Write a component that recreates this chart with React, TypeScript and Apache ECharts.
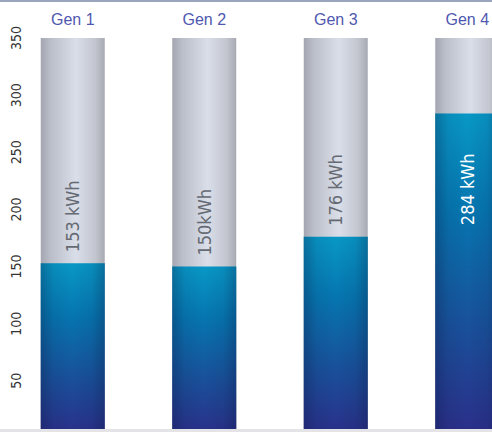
import React, { useEffect, useRef } from "react";
import * as echarts from "echarts";

const categories = ["Gen 1", "Gen 2", "Gen 3", "Gen 4"];
const energyValues = [153, 150, 176, 284];
const valueLabels = ["153 kWh", "150kWh", "176 kWh", "284 kWh"];
const yMin = 0;
const yMax = 350;
const yInterval = 50;

const NARROW = '"Liberation Sans Narrow", "DejaVu Sans Condensed", "Liberation Sans", sans-serif';

export default function App() {
  const ref = useRef<HTMLDivElement>(null);
  useEffect(() => {
    if (!ref.current) return;
    const chart = echarts.init(ref.current, undefined, { renderer: "svg" });

    const grayGrad = new echarts.graphic.LinearGradient(0, 0, 1, 0, [
      { offset: 0, color: "#a3a6b0" },
      { offset: 0.15, color: "#babec8" },
      { offset: 0.55, color: "#d9dee9" },
      { offset: 0.85, color: "#c3c6cf" },
      { offset: 1, color: "#a7aab3" },
    ]);
    const blueGrad = new echarts.graphic.LinearGradient(0, 0, 0, 1, [
      { offset: 0, color: "#0898c6" },
      { offset: 0.3, color: "#0676b0" },
      { offset: 0.62, color: "#17549c" },
      { offset: 1, color: "#2c2d88" },
    ]);
    const edgeGrad = new echarts.graphic.LinearGradient(0, 0, 1, 0, [
      { offset: 0, color: "rgba(10,20,60,0.30)" },
      { offset: 0.2, color: "rgba(10,20,60,0.08)" },
      { offset: 0.5, color: "rgba(10,20,60,0)" },
      { offset: 0.8, color: "rgba(10,20,60,0.08)" },
      { offset: 1, color: "rgba(10,20,60,0.30)" },
    ]);

    const topLabel = {
      show: true,
      position: "top",
      distance: 11,
      rotate: 90,
      align: "left",
      verticalAlign: "middle",
      color: "#666a73",
      fontFamily: NARROW,
      fontSize: 18,
    };
    const insideLabel = {
      show: true,
      position: "insideTop",
      distance: 40,
      rotate: 90,
      align: "right",
      verticalAlign: "middle",
      color: "#ffffff",
      fontFamily: NARROW,
      fontSize: 18,
    };

    chart.setOption({
      animation: false,
      grid: { left: 7, right: 0, top: 38, bottom: 2, containLabel: false },
      xAxis: {
        type: "category",
        position: "top",
        data: categories,
        axisLine: { show: false },
        axisTick: { show: false },
        axisLabel: {
          color: "#4f58b0",
          fontFamily: '"Liberation Sans", Arial, sans-serif',
          fontSize: 16,
          margin: 11,
        },
      },
      yAxis: {
        type: "value",
        min: yMin,
        max: yMax,
        interval: yInterval,
        offset: -22,
        splitLine: { show: false },
        axisLine: { show: false },
        axisTick: { show: false },
        axisLabel: {
          rotate: 90,
          color: "#333333",
          fontFamily: NARROW,
          fontSize: 14,
          margin: 6,
          showMinLabel: false,
        },
      },
      series: [
        {
          type: "bar",
          data: energyValues,
          barWidth: 64,
          showBackground: true,
          backgroundStyle: { color: grayGrad },
          itemStyle: { color: blueGrad },
          silent: true,
          z: 2,
        },
        {
          type: "bar",
          data: energyValues.map((v) => ({
            value: v,
            label: v > 250 ? insideLabel : topLabel,
          })),
          barWidth: 64,
          barGap: "-100%",
          itemStyle: { color: edgeGrad },
          label: {
            formatter: (p: any) => valueLabels[p.dataIndex],
          },
          silent: true,
          z: 3,
        },
      ],
      graphic: [
        {
          type: "rect",
          z: 100,
          shape: { x: 0, y: 0, width: 533, height: 2 },
          style: { fill: "#9aa6c0" },
        },
        {
          type: "rect",
          z: 100,
          shape: { x: 0, y: 429, width: 533, height: 11 },
          style: { fill: "#e4e4e6" },
        },
      ],
    });
    return () => chart.dispose();
  }, []);

  return (
    <div
      ref={ref}
      style={{ position: "fixed", left: 0, top: 0, width: 533, height: 440, background: "#ffffff" }}
    />
  );
}
